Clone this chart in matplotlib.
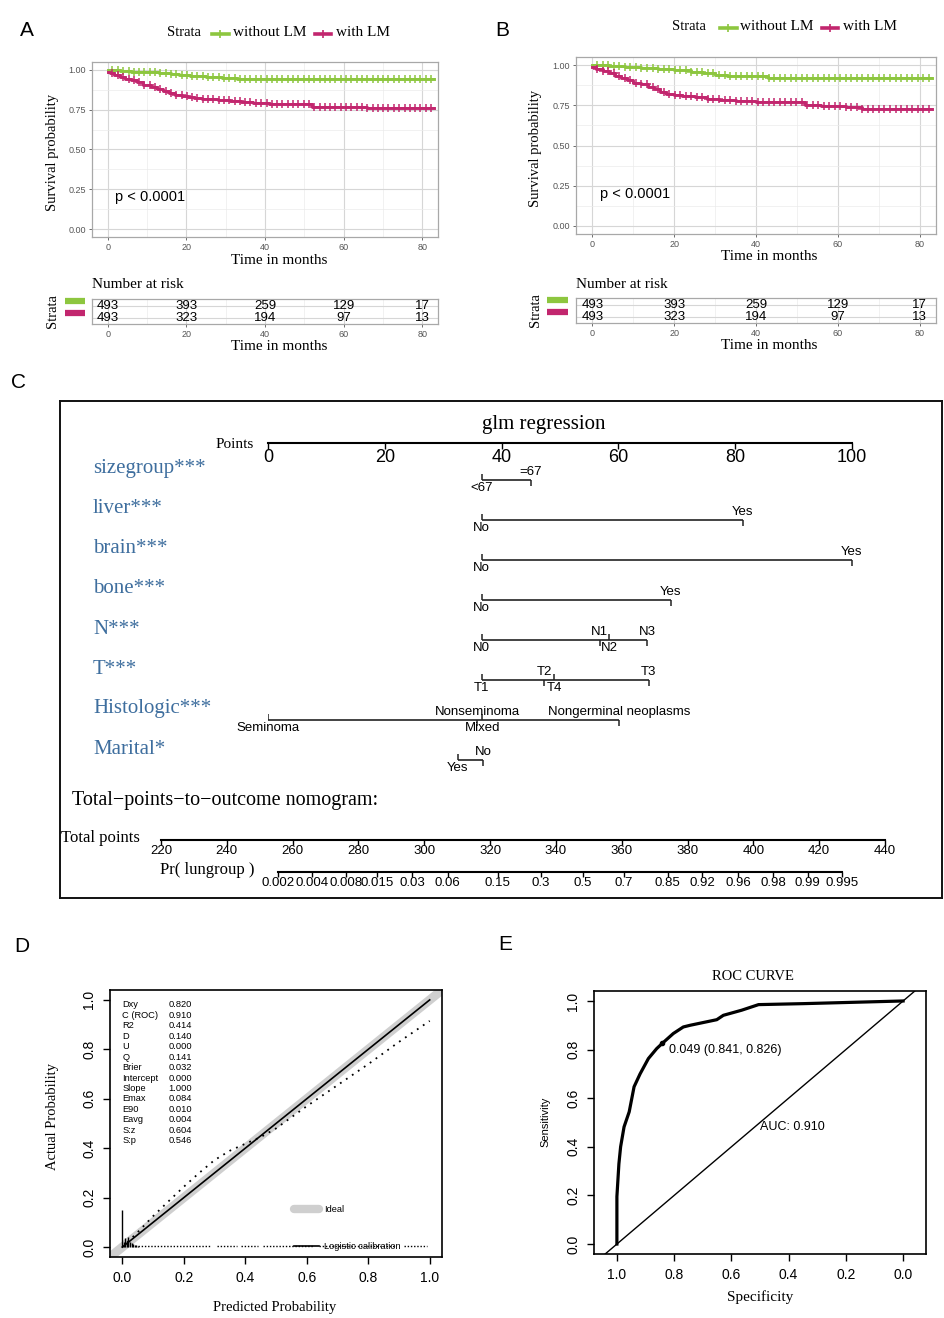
import numpy as np
import matplotlib
matplotlib.use('Agg')
import matplotlib.pyplot as plt
from matplotlib.lines import Line2D
from matplotlib import font_manager
import matplotlib.transforms as mtrans
from matplotlib.ticker import NullLocator

# ------------------------------------------------------------------ data
# Panel A / B : Kaplan-Meier curves (step times, survival)
a_wo_t = [0, 3, 6, 10, 13, 16, 18, 21, 25, 29, 33]
a_wo_s = [1.0, 0.995, 0.99, 0.985, 0.98, 0.972, 0.967, 0.96, 0.955, 0.948, 0.94]
a_w_t = [0, 0.5, 1.5, 3, 4.5, 6, 7.5, 9, 11, 12.5, 14, 15.5, 17, 19, 20.5, 22, 24, 26, 28, 31, 34, 37, 41, 45, 52, 66]
a_w_s = [0.99, 0.98, 0.967, 0.958, 0.946, 0.935, 0.923, 0.905, 0.895, 0.882, 0.868, 0.853, 0.845, 0.838,
         0.832, 0.826, 0.82, 0.815, 0.81, 0.805, 0.798, 0.792, 0.787, 0.783, 0.77, 0.762]
b_wo_t = [0, 4, 8, 12, 16, 20, 24, 27, 30, 33, 43]
b_wo_s = [1.0, 0.995, 0.99, 0.983, 0.975, 0.967, 0.958, 0.948, 0.94, 0.93, 0.922]
b_w_t = [0, 1, 2.5, 4, 5.5, 7, 8.5, 10, 12, 13.5, 15, 16.5, 18, 20, 22, 25, 28, 31, 35, 40, 46, 52, 56, 62, 66]
b_w_s = [0.99, 0.975, 0.96, 0.948, 0.935, 0.922, 0.905, 0.89, 0.88, 0.866, 0.85, 0.835, 0.822, 0.814,
         0.806, 0.8, 0.79, 0.782, 0.778, 0.773, 0.768, 0.752, 0.748, 0.738, 0.728]
km_end = 83
censor_times = [1.2, 2.6, 3.9, 5.3, 6.6, 8.0, 9.3, 10.7, 12.0, 13.4, 14.7, 16.1, 17.4, 18.8, 20.1, 21.5,
                22.8, 24.2, 25.5, 26.9, 28.2, 29.6, 30.9, 32.3, 33.6, 35.0, 36.3, 37.7, 39.0, 40.4, 41.7,
                43.1, 44.4, 45.8, 47.1, 48.5, 49.8, 51.2, 52.5, 53.9, 55.2, 56.6, 57.9, 59.3, 60.6, 62.0,
                63.3, 64.7, 66.0, 67.4, 68.7, 70.1, 71.4, 72.8, 74.1, 75.5, 76.8, 78.2, 79.5, 80.9, 82.2]
risk_times = [0, 20, 40, 60, 80]
risk_wo = [493, 393, 259, 129, 17]
risk_w = [493, 323, 194, 97, 13]
strata_names = ['without LM', 'with LM']

# Panel C : nomogram
nomo_vars = ['sizegroup***', 'liver***', 'brain***', 'bone***', 'N***', 'T***', 'Histologic***', 'Marital*']
nomo_levels = [['<67', '=67'], ['No', 'Yes'], ['No', 'Yes'], ['No', 'Yes'],
               ['N0', 'N1', 'N2', 'N3'], ['T1', 'T2', 'T4', 'T3'],
               ['Seminoma', 'Nonseminoma', 'Mixed', 'Nongerminal neoplasms'], ['Yes', 'No']]
nomo_points = [[36.6, 45.0], [36.6, 81.3], [36.6, 100.0], [36.6, 69.0],
               [36.6, 56.8, 58.4, 64.9], [36.6, 47.3, 49.0, 65.2],
               [0.0, 35.8, 36.7, 60.1], [32.5, 36.8]]
points_ticks = [0, 20, 40, 60, 80, 100]
total_ticks = [220, 240, 260, 280, 300, 320, 340, 360, 380, 400, 420, 440]
pr_ticks = [0.002, 0.004, 0.008, 0.015, 0.03, 0.06, 0.15, 0.3, 0.5, 0.7, 0.85, 0.92, 0.96, 0.98, 0.99, 0.995]
pr_labels = ['0.002', '0.004', '0.008', '0.015', '0.03', '0.06', '0.15', '0.3', '0.5', '0.7',
             '0.85', '0.92', '0.96', '0.98', '0.99', '0.995']

# Panel D : calibration
calib_ideal = [0.0, 1.0]
calib_logistic_x = [0.0, 1.0]
calib_logistic_y = [0.0, 1.0]
calib_np_x = [0.0, 0.05, 0.1, 0.15, 0.2, 0.25, 0.3, 0.35, 0.4, 0.45, 0.5, 0.6, 0.7, 0.8, 0.9, 1.0]
calib_np_y = [0.0, 0.06, 0.125, 0.185, 0.244, 0.30, 0.352, 0.39, 0.418, 0.445, 0.48, 0.57, 0.655, 0.74, 0.83, 0.915]
spike_x = [0.0, 0.005, 0.01, 0.015, 0.02, 0.025, 0.03, 0.035, 0.04, 0.045, 0.05]
spike_h = [0.152, 0.02, 0.035, 0.025, 0.04, 0.02, 0.015, 0.012, 0.01, 0.008, 0.006]
rug_start = [0.05, 0.307, 0.385, 0.459, 0.639, 0.916]
rug_end = [0.29, 0.372, 0.443, 0.622, 0.889, 0.992]
stat_names = ['Dxy', 'C (ROC)', 'R2', 'D', 'U', 'Q', 'Brier', 'Intercept', 'Slope', 'Emax', 'E90',
              'Eavg', 'S:z', 'S:p']
stat_vals = ['0.820', '0.910', '0.414', '0.140', '0.000', '0.141', '0.032', '0.000', '1.000', '0.084',
             '0.010', '0.004', '0.604', '0.546']

# Panel E : ROC
roc_spec = [1.0, 1.0, 0.993, 0.987, 0.975, 0.957, 0.940, 0.919, 0.890, 0.861, 0.841, 0.803, 0.768,
            0.744, 0.651, 0.628, 0.564, 0.505, 0.348, 0.0]
roc_sens = [0.0, 0.195, 0.33, 0.40, 0.482, 0.544, 0.647, 0.70, 0.763, 0.804, 0.826, 0.866, 0.893,
            0.90, 0.923, 0.941, 0.962, 0.985, 0.989, 1.0]
roc_best = (0.841, 0.826)
roc_best_label = '0.049 (0.841, 0.826)'
roc_auc_label = 'AUC: 0.910'

# ------------------------------------------------------------------ style
W, H, DPI = 945, 1318, 100
SERIF = ['Liberation Serif', 'DejaVu Serif']
SANS = ['Liberation Sans', 'DejaVu Sans']
_names = {f.name for f in font_manager.fontManager.ttflist}
if 'Liberation Sans Narrow' in _names:
    NARROW, NSIZE = ['Liberation Sans Narrow', 'DejaVu Sans'], 10.5
else:
    NARROW, NSIZE = SANS, 9.5
GREEN = '#8DC63F'
MAGENTA = '#C2266E'
VARBLUE = '#3E6E9E'

plt.rcParams['font.family'] = SANS
fig = plt.figure(figsize=(W / DPI, H / DPI), dpi=DPI)


def ax_at(x0, y0, x1, y1):
    return fig.add_axes([x0 / W, 1 - y1 / H, (x1 - x0) / W, (y1 - y0) / H])


def ftext(x, y, s, **kw):
    return fig.text(x / W, 1 - y / H, s, **kw)


def fline(x0, x1, y, **kw):
    fig.add_artist(Line2D([x0 / W, x1 / W], [1 - y / H, 1 - y / H], transform=fig.transFigure, **kw))


# ------------------------------------------------------------------ KM panels
def km_panel(main, risk, curves, legend, xlab_x, ylab_x, strata_lab_x, bars_x):
    ax = ax_at(*main)
    for t, s, color in curves:
        tt = list(t) + [km_end]
        ss = list(s) + [s[-1]]
        ax.step(tt, ss, where='post', color=color, lw=2.1, zorder=3)
        idx = np.searchsorted(t, censor_times, side='right') - 1
        ax.plot(censor_times, np.asarray(s)[idx], ls='none', marker='+', ms=5.5, mew=1.1,
                color=color, zorder=3)
    ax.set_xlim(-4, 84)
    ax.set_ylim(-0.05, 1.05)
    ax.set_xticks(risk_times)
    ax.set_xticks([10, 30, 50, 70], minor=True)
    ax.set_yticks([0, 0.25, 0.5, 0.75, 1.0], ['0.00', '0.25', '0.50', '0.75', '1.00'])
    ax.set_yticks([0.125, 0.375, 0.625, 0.875], minor=True)
    ax.grid(which='major', color='#d6d6d6', lw=0.8)
    ax.grid(which='minor', color='#ebebeb', lw=0.5)
    ax.set_axisbelow(True)
    ax.tick_params(which='minor', length=0)
    ax.tick_params(which='major', length=2.5, width=0.6, color='#555555', labelsize=6.5,
                   labelcolor='#555555', pad=2)
    for sp in ax.spines.values():
        sp.set_color('#a8a8a8')
        sp.set_linewidth(0.9)
    ax.text(1.8, 0.2, 'p < 0.0001', family=NARROW, fontsize=NSIZE + 1, ha='left', va='center')

    # axis titles
    ftext(xlab_x, main[3] + 23, 'Time in months', family=SERIF, fontsize=11, ha='center', va='center')
    ftext(ylab_x, (main[1] + main[3]) / 2 + 3, 'Survival probability', family=SERIF, fontsize=10.5,
          rotation=90, ha='center', va='center')

    # legend on top
    y, xs, g0, g1, xwo, m0, m1, xw = legend
    ftext(xs, y, 'Strata', family=SERIF, fontsize=10.5, ha='left', va='center')
    for (a0, a1, xt, col, name) in [(g0, g1, xwo, GREEN, strata_names[0]), (m0, m1, xw, MAGENTA, strata_names[1])]:
        fline(a0, a1, y + 1, color=col, lw=2.6)
        fig.add_artist(Line2D([(a0 + a1) / 2 / W], [1 - (y + 1) / H], transform=fig.transFigure,
                              marker='+', ms=6, mew=1.2, color=col, ls='none'))
        ftext(xt, y, name, family=SERIF, fontsize=11, ha='left', va='center')

    # risk table
    rk = ax_at(*risk)
    rk.set_xlim(-4, 84)
    rk.set_ylim(0.5, 2.58)
    rk.set_xticks(risk_times)
    rk.set_xticks([10, 30, 50, 70], minor=True)
    rk.set_yticks([1, 2], ['', ''])
    rk.grid(which='major', color='#d6d6d6', lw=0.8)
    rk.grid(which='minor', axis='x', color='#ebebeb', lw=0.5)
    rk.set_axisbelow(True)
    rk.tick_params(which='minor', length=0)
    rk.tick_params(axis='y', length=0)
    rk.tick_params(axis='x', which='major', length=2.5, width=0.6, color='#555555', labelsize=6.5,
                   labelcolor='#555555', pad=2)
    for sp in rk.spines.values():
        sp.set_color('#a8a8a8')
        sp.set_linewidth(0.9)
    for row, vals in [(2, risk_wo), (1, risk_w)]:
        for t, v in zip(risk_times, vals):
            rk.text(t, row, str(v), family=NARROW, fontsize=NSIZE, ha='center', va='center')
    tr = mtrans.blended_transform_factory(fig.transFigure, rk.transData)
    for row, col in [(2, GREEN), (1, MAGENTA)]:
        rk.plot([bars_x[0] / W, bars_x[1] / W], [row + 0.45, row + 0.45], color=col, lw=4.5,
                transform=tr, clip_on=False, solid_capstyle='butt')
    ftext(risk[0], risk[1] - 14, 'Number at risk', family=SERIF, fontsize=11, ha='left', va='center')
    ftext(strata_lab_x, (risk[1] + risk[3]) / 2, 'Strata', family=SERIF, fontsize=10.5, rotation=90,
          ha='center', va='center')
    ftext(xlab_x, risk[3] + 23, 'Time in months', family=SERIF, fontsize=11, ha='center', va='center')


km_panel((92, 62, 438, 237), (92, 299, 438, 324),
         [(a_wo_t, a_wo_s, GREEN), (a_w_t, a_w_s, MAGENTA)],
         (33, 167, 212, 229, 233, 315, 331, 336), 279, 53, 53, (65, 85))
km_panel((576, 57, 936, 234), (576, 298, 936, 323),
         [(b_wo_t, b_wo_s, GREEN), (b_w_t, b_w_s, MAGENTA)],
         (27, 672, 720, 737, 740, 822, 838, 843), 769, 536, 536, (547, 568))

# ------------------------------------------------------------------ panel C : nomogram
frame = ax_at(60, 401, 942, 898)
frame.set_xticks([])
frame.set_yticks([])
frame.patch.set_alpha(0)
for sp in frame.spines.values():
    sp.set_color('#111111')
    sp.set_linewidth(1.4)

ftext(544, 425, 'glm regression', family=SERIF, fontsize=15, ha='center', va='center')
ftext(254, 444, 'Points', family=SERIF, fontsize=11, ha='right', va='center')

ax_pts = ax_at(268, 437, 852, 443)
ax_pts.set_xlim(0, 100)
ax_pts.patch.set_alpha(0)
for k in ['top', 'left', 'right']:
    ax_pts.spines[k].set_visible(False)
ax_pts.spines['bottom'].set_linewidth(1.5)
ax_pts.set_yticks([])
ax_pts.set_xticks(points_ticks)
ax_pts.tick_params(axis='x', direction='out', length=4, width=1, labelsize=13, pad=0)

ax_nom = ax_at(268, 455, 852, 775)
ax_nom.set_xlim(0, 100)
ax_nom.set_ylim(len(nomo_vars) - 0.625, -0.625)
ax_nom.axis('off')
name_tr = mtrans.blended_transform_factory(fig.transFigure, ax_nom.transData)
for i, (name, levs, pts) in enumerate(zip(nomo_vars, nomo_levels, nomo_points)):
    ax_nom.annotate(name, xy=(93 / W, i), xycoords=name_tr, xytext=(0, 11), textcoords='offset pixels',
                    family=SERIF, fontsize=15, color=VARBLUE, ha='left', va='center')
    ax_nom.plot([min(pts), max(pts)], [i, i], color='#222222', lw=1.2, solid_capstyle='butt')
    order = np.argsort(pts)
    for rank, j in enumerate(order):
        above = rank % 2 == 1
        ax_nom.plot([pts[j]], [i], ls='none', marker=3 if above else 2, ms=4.5, mew=1.1, color='#222222')
        ax_nom.annotate(levs[j], xy=(pts[j], i), xytext=(0, 2 if above else -2), textcoords='offset pixels',
                        fontsize=9.5, ha='center', va='bottom' if above else 'top', annotation_clip=False)

ftext(72, 800, 'Total\u2212points\u2212to\u2212outcome nomogram:', family=SERIF, fontsize=14.5,
      ha='left', va='center')

ax_tp = ax_at(161, 834, 885, 840)
ax_tp.set_xlim(total_ticks[0], total_ticks[-1])
ax_tp.patch.set_alpha(0)
for k in ['top', 'left', 'right']:
    ax_tp.spines[k].set_visible(False)
ax_tp.spines['bottom'].set_linewidth(1.5)
ax_tp.set_yticks([])
ax_tp.set_xticks(total_ticks)
ax_tp.tick_params(axis='x', direction='out', length=3.5, width=1, labelsize=9.5, pad=0)
ftext(61, 838, 'Total points', family=SERIF, fontsize=12, ha='left', va='center')

ax_pr = ax_at(278, 866, 842, 872)
ax_pr.set_xscale('logit')
ax_pr.set_xlim(pr_ticks[0], pr_ticks[-1])
ax_pr.patch.set_alpha(0)
for k in ['top', 'left', 'right']:
    ax_pr.spines[k].set_visible(False)
ax_pr.spines['bottom'].set_linewidth(1.5)
ax_pr.set_yticks([])
ax_pr.set_xticks(pr_ticks, pr_labels)
ax_pr.xaxis.set_minor_locator(NullLocator())
ax_pr.tick_params(axis='x', direction='out', length=3.5, width=1, labelsize=9.5, pad=0)
ftext(160, 870, 'Pr( lungroup )', family=SERIF, fontsize=12, ha='left', va='center')

# ------------------------------------------------------------------ panel D : calibration
axd = ax_at(110, 990, 442, 1257)
axd.set_xlim(-0.04, 1.04)
axd.set_ylim(-0.04, 1.04)
axd.axline((calib_ideal[0], calib_ideal[0]), (calib_ideal[1], calib_ideal[1]), color='#cfcfcf', lw=6.5,
           zorder=1)
axd.plot(calib_logistic_x, calib_logistic_y, color='black', lw=1.2, zorder=3)
axd.plot(calib_np_x, calib_np_y, color='black', lw=1.3, ls=(0, (1, 3)), zorder=3)
axd.vlines(spike_x, 0, spike_h, color='black', lw=1.0, zorder=3)
axd.hlines([0.004] * len(rug_start), rug_start, rug_end, color='black', lw=1.0, linestyles=(0, (1, 1.3)),
           zorder=3)
for k, (nm, vl) in enumerate(zip(stat_names, stat_vals)):
    yy = 0.98 - k * 0.0423
    axd.text(0.0, yy, nm, fontsize=6.7, ha='left', va='center')
    axd.text(0.15, yy, vl, fontsize=6.7, ha='left', va='center')
leg = axd.legend(handles=[Line2D([], [], color='#cfcfcf', lw=6, solid_capstyle='round'),
                          Line2D([], [], color='black', lw=1.2)],
                 labels=['Ideal', 'Logistic calibration'], loc='lower left',
                 bbox_to_anchor=(0.53, -0.01), frameon=False, fontsize=6.7, handlelength=2.6,
                 labelspacing=3.0, handletextpad=0.6)
axd.set_xticks([0, 0.2, 0.4, 0.6, 0.8, 1.0], ['0.0', '0.2', '0.4', '0.6', '0.8', '1.0'])
axd.set_yticks([0, 0.2, 0.4, 0.6, 0.8, 1.0], ['0.0', '0.2', '0.4', '0.6', '0.8', '1.0'])
axd.tick_params(length=5, width=1, labelsize=10, pad=5)
axd.tick_params(axis='y', labelrotation=90)
for lbl in axd.get_yticklabels():
    lbl.set_va('center')
for sp in axd.spines.values():
    sp.set_linewidth(1.2)
ftext(275, 1308, 'Predicted Probability', family=SERIF, fontsize=10.5, ha='center', va='center')
ftext(53, 1117, 'Actual Probability', family=SERIF, fontsize=10.5, rotation=90, ha='center', va='center')

# ------------------------------------------------------------------ panel E : ROC
axe = ax_at(594, 991, 926, 1254)
axe.set_xlim(1.08, -0.08)
axe.set_ylim(-0.041, 1.041)
axe.axline((1, 0), (0, 1), color='black', lw=1.0)
axe.plot(roc_spec, roc_sens, color='black', lw=2.3, solid_joinstyle='round')
axe.plot([roc_best[0]], [roc_best[1]], 'o', color='black', ms=3)
axe.text(0.818, 0.80, roc_best_label, fontsize=9, ha='left', va='center')
axe.text(0.50, 0.482, roc_auc_label, fontsize=9, ha='left', va='center')
axe.set_xticks([1.0, 0.8, 0.6, 0.4, 0.2, 0.0], ['1.0', '0.8', '0.6', '0.4', '0.2', '0.0'])
axe.set_yticks([0, 0.2, 0.4, 0.6, 0.8, 1.0], ['0.0', '0.2', '0.4', '0.6', '0.8', '1.0'])
axe.tick_params(length=5, width=1, labelsize=10, pad=5)
axe.tick_params(axis='y', labelrotation=90)
for lbl in axe.get_yticklabels():
    lbl.set_va('center')
for sp in axe.spines.values():
    sp.set_linewidth(1.2)
ftext(753, 977, 'ROC CURVE', family=SERIF, fontsize=10.5, ha='center', va='center')
ftext(760, 1297, 'Specificity', family=SERIF, fontsize=11, ha='center', va='center')
ftext(545, 1122, 'Sensitivity', fontsize=8, rotation=90, ha='center', va='center')

# ------------------------------------------------------------------ panel letters
for lab, x, y in [('A', 27, 30), ('B', 502, 30), ('C', 18, 383), ('D', 22, 946), ('E', 505, 945)]:
    ftext(x, y, lab, fontsize=15, ha='center', va='center')

fig.savefig('out.png', dpi=DPI)
